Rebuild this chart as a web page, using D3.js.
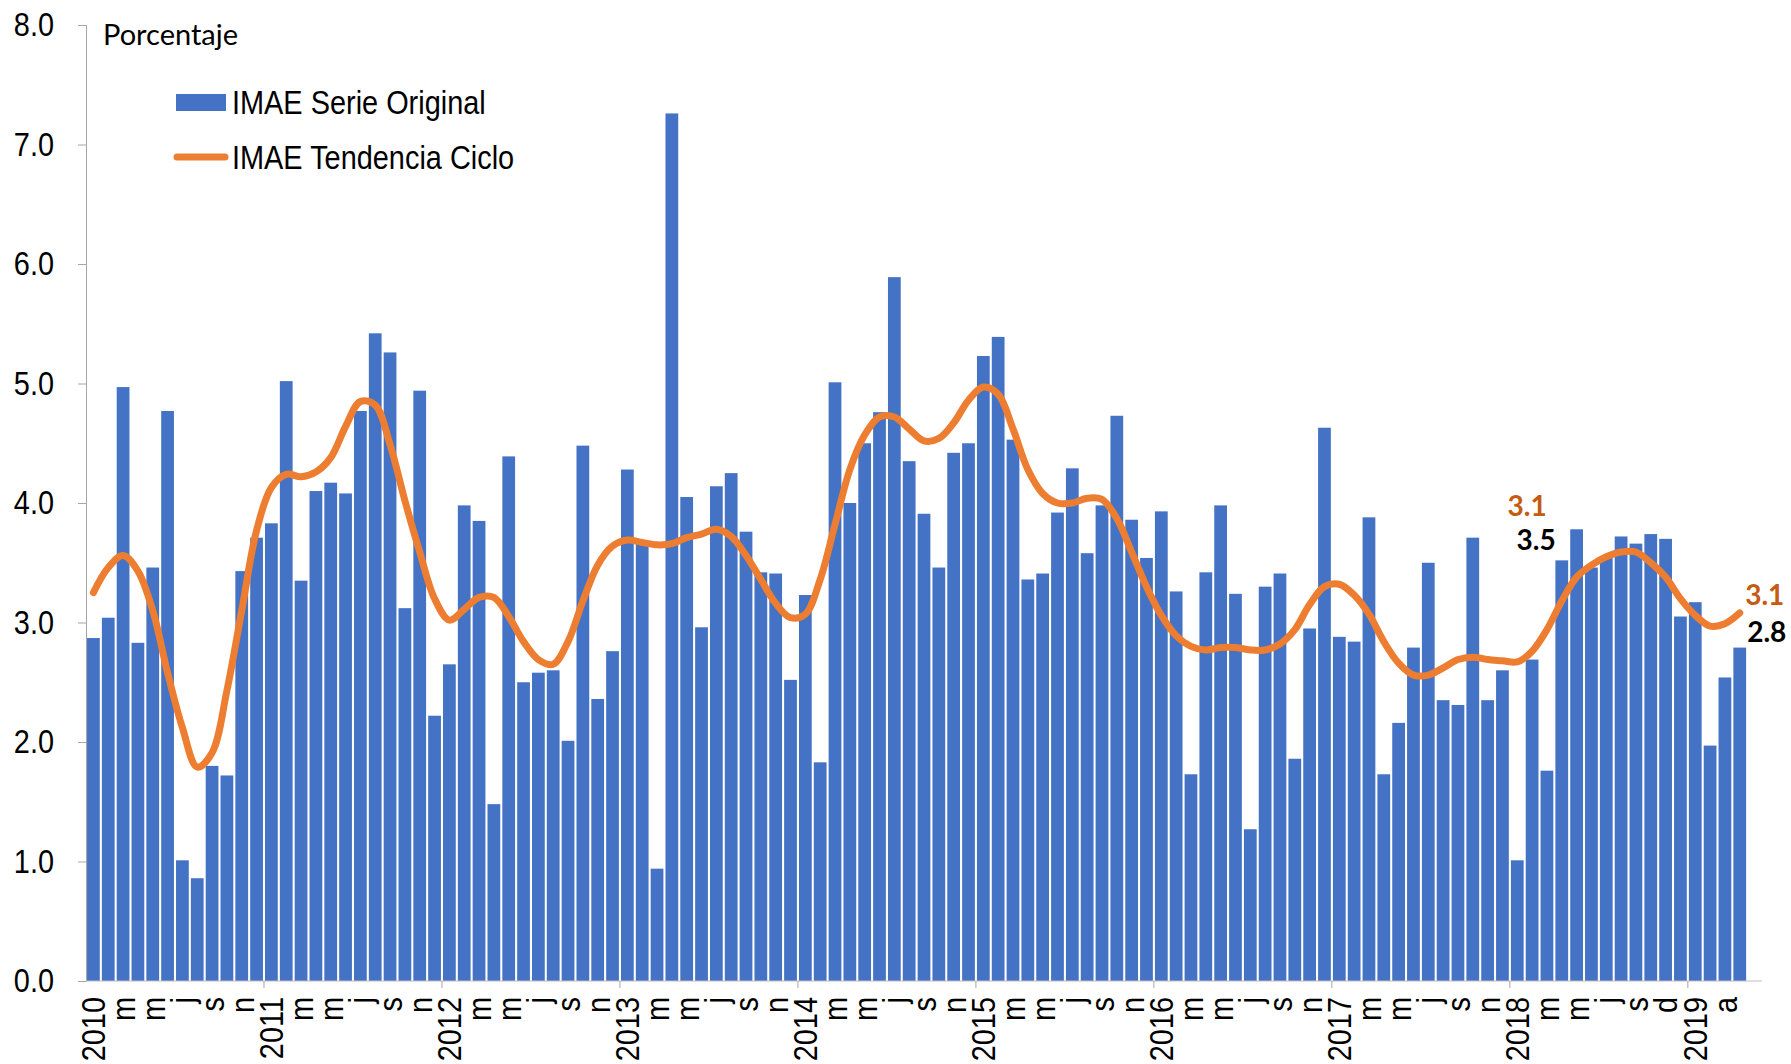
<!DOCTYPE html>
<html>
<head>
<meta charset="utf-8">
<script src="https://cdn.jsdelivr.net/npm/d3@7"></script>
<style>
  body { margin: 0; background: #fff; }
  .narrow { font-family: "Liberation Sans", Arial, sans-serif; }
  .cal { font-family: Lato, "Open Sans", sans-serif; }
</style>
</head>
<body>
<svg id="chart" width="1791" height="1064"></svg>
<script>
// IMAE, variacion interanual (%), ene-2010 a abr-2019
const serieOriginal = [
  2.87, 3.04, 4.97, 2.83, 3.46, 4.77, 1.01, 0.86, 1.80, 1.72, 3.43, 3.71,
  3.83, 5.02, 3.35, 4.10, 4.17, 4.08, 4.77, 5.42, 5.26, 3.12, 4.94, 2.22,
  2.65, 3.98, 3.85, 1.48, 4.39, 2.50, 2.58, 2.60, 2.01, 4.48, 2.36, 2.76,
  4.28, 3.66, 0.94, 7.26, 4.05, 2.96, 4.14, 4.25, 3.76, 3.42, 3.41, 2.52,
  3.23, 1.83, 5.01, 4.00, 4.50, 4.76, 5.89, 4.35, 3.91, 3.46, 4.42, 4.50,
  5.23, 5.39, 4.53, 3.36, 3.41, 3.92, 4.29, 3.58, 3.98, 4.73, 3.86, 3.54,
  3.93, 3.26, 1.73, 3.42, 3.98, 3.24, 1.27, 3.30, 3.41, 1.86, 2.95, 4.63,
  2.88, 2.84, 3.88, 1.73, 2.16, 2.79, 3.50, 2.35, 2.31, 3.71, 2.35, 2.60,
  1.01, 2.69, 1.76, 3.52, 3.78, 3.46, 3.55, 3.72, 3.66, 3.74, 3.70, 3.05,
  3.17, 1.97, 2.54, 2.79
];

const tendenciaCiclo = [
  3.25, 3.46, 3.56, 3.43, 3.10, 2.58, 2.12, 1.79, 1.91, 2.43, 3.10, 3.77,
  4.13, 4.24, 4.22, 4.26, 4.38, 4.64, 4.85, 4.82, 4.49, 4.02, 3.59, 3.20,
  3.02, 3.11, 3.21, 3.21, 3.05, 2.84, 2.69, 2.65, 2.84, 3.18, 3.48, 3.64,
  3.69, 3.67, 3.65, 3.66, 3.71, 3.74, 3.78, 3.72, 3.56, 3.36, 3.16, 3.04,
  3.07, 3.36, 3.82, 4.28, 4.57, 4.72, 4.72, 4.62, 4.52, 4.54, 4.67, 4.86,
  4.97, 4.91, 4.62, 4.28, 4.08, 4.00, 4.00, 4.04, 4.03, 3.87, 3.59, 3.30,
  3.06, 2.89, 2.80, 2.77, 2.79, 2.79, 2.77, 2.77, 2.82, 2.94, 3.15, 3.30,
  3.32, 3.23, 3.07, 2.84, 2.66, 2.56, 2.56, 2.62, 2.69, 2.71, 2.69, 2.68,
  2.67, 2.76, 2.94, 3.18, 3.38, 3.48, 3.55, 3.59, 3.59, 3.50, 3.38, 3.20,
  3.06, 2.97, 2.99, 3.08
];

// one label every two months, as in the original
const tickLabels = [
  "2010","m","m","j","s","n",
  "2011","m","m","j","s","n",
  "2012","m","m","j","s","n",
  "2013","m","m","j","s","n",
  "2014","m","m","j","s","n",
  "2015","m","m","j","s","n",
  "2016","m","m","j","s","n",
  "2017","m","m","j","s","n",
  "2018","m","m","j","s","d",
  "2019","a"
];

const yTicks = [0, 1, 2, 3, 4, 5, 6, 7, 8];

// value labels: month index they sit over, value at their baseline
const annotations = [
  {text: "3.1", color: "#C55A11", idx: 97, v: 3.89, dx: -5},
  {text: "3.5", color: "#000000", idx: 97, v: 3.61, dx: 4},
  {text: "3.1", color: "#C55A11", idx: 111, v: 3.15, dx: 25},
  {text: "2.8", color: "#000000", idx: 111, v: 2.84, dx: 27}
];

const nSlots = 113; // the axis has one empty slot after abr-2019
const squeeze = 0.85; // Arial Narrow look from Liberation Sans
const svg = d3.select("#chart");
const width = 1791, height = 1064;
const margin = {top: 25, left: 86, right: 29, bottom: 83};

svg.append("rect").attr("width", width).attr("height", height).attr("fill", "white");

const x = d3.scaleBand()
  .domain(d3.range(nSlots))
  .range([margin.left, width - margin.right])
  .paddingInner(0.14)
  .paddingOuter(0.07);

const y = d3.scaleLinear()
  .domain([0, 8])
  .range([height - margin.bottom, margin.top]);

const step = x.step();
const axisColor = "#A6A6A6";

// bars
svg.append("g")
  .selectAll("rect")
  .data(serieOriginal)
  .join("rect")
    .attr("x", (d, i) => x(i))
    .attr("y", d => y(d))
    .attr("width", x.bandwidth())
    .attr("height", d => y(0) - y(d))
    .attr("fill", "#4472C4");

// y axis
const yAxis = svg.append("g")
  .attr("transform", `translate(${margin.left},0)`)
  .call(d3.axisLeft(y).tickValues(yTicks).tickFormat(d3.format(".1f")).tickSize(8));
yAxis.select(".domain").attr("stroke", axisColor);
yAxis.selectAll(".tick line").attr("stroke", axisColor);
yAxis.selectAll("text")
  .attr("class", "narrow")
  .attr("font-size", 34)
  .attr("fill", "#000")
  .attr("x", 0)
  .attr("transform", `translate(-32,0) scale(${squeeze},1)`);

// x axis line
svg.append("line")
  .attr("x1", margin.left).attr("x2", width - margin.right)
  .attr("y1", y(0)).attr("y2", y(0))
  .attr("stroke", "#BFBFBF");

// year ticks
const yearStarts = d3.range(12, nSlots, 12);
svg.append("g")
  .selectAll("line")
  .data(yearStarts)
  .join("line")
    .attr("x1", i => x(i) - step * 0.07)
    .attr("x2", i => x(i) - step * 0.07)
    .attr("y1", y(0))
    .attr("y2", y(0) + 7)
    .attr("stroke", axisColor);

// month labels, rotated
svg.append("g")
  .selectAll("text")
  .data(tickLabels)
  .join("text")
    .attr("class", "narrow")
    .attr("font-size", 34)
    .attr("text-anchor", "end")
    .attr("dy", "0.35em")
    .attr("transform", (d, k) => {
      const cx = x(k * 2) + x.bandwidth() / 2;
      return `translate(${cx},${y(0) + 16}) rotate(-90) scale(${squeeze},1)`;
    })
    .text(d => d);

// trend-cycle line
const line = d3.line()
  .x((d, i) => x(i) + x.bandwidth() / 2)
  .y(d => y(d))
  .curve(d3.curveCatmullRom.alpha(0.5));

svg.append("path")
  .datum(tendenciaCiclo)
  .attr("d", line)
  .attr("fill", "none")
  .attr("stroke", "#ED7D31")
  .attr("stroke-width", 7)
  .attr("stroke-linecap", "round");

// unit label
svg.append("text")
  .attr("class", "cal")
  .attr("x", 103)
  .attr("y", 45)
  .attr("font-size", 29)
  .text("Porcentaje");

// legend
const legend = svg.append("g");
legend.append("rect")
  .attr("x", 176).attr("y", 94)
  .attr("width", 50).attr("height", 17)
  .attr("fill", "#4472C4");
legend.append("text")
  .attr("class", "narrow")
  .attr("transform", `translate(232,114) scale(${squeeze},1)`)
  .attr("font-size", 34)
  .text("IMAE Serie Original");
legend.append("line")
  .attr("x1", 177).attr("x2", 225)
  .attr("y1", 157).attr("y2", 157)
  .attr("stroke", "#ED7D31")
  .attr("stroke-width", 7)
  .attr("stroke-linecap", "round");
legend.append("text")
  .attr("class", "narrow")
  .attr("transform", `translate(232,169) scale(${squeeze},1)`)
  .attr("font-size", 34)
  .text("IMAE Tendencia Ciclo");

// value labels
svg.append("g")
  .selectAll("text")
  .data(annotations)
  .join("text")
    .attr("class", "cal")
    .attr("font-size", 28)
    .attr("font-weight", 700)
    .attr("text-anchor", "middle")
    .attr("x", d => x(d.idx) + x.bandwidth() / 2 + d.dx)
    .attr("y", d => y(d.v))
    .attr("fill", d => d.color)
    .text(d => d.text);
</script>
</body>
</html>
